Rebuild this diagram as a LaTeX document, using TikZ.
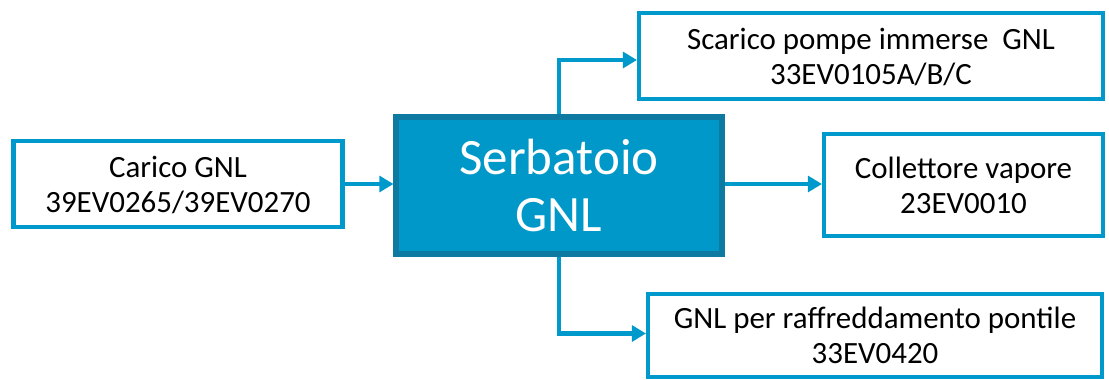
\documentclass[tikz,border=0pt]{standalone}
\usepackage{fontspec}
\setmainfont{Carlito}
\usetikzlibrary{arrows.meta}
\definecolor{lineblue}{RGB}{0,153,204}
\definecolor{tankfill}{RGB}{0,152,200}
\definecolor{tankedge}{RGB}{14,122,162}
\tikzset{
  box/.style={draw=lineblue, line width=2.3pt, fill=white, align=center,
    font=\fontsize{17.6}{20}\selectfont, inner sep=0pt, text depth=0pt},
  tankbox/.style={draw=tankedge, line width=2.9pt, fill=tankfill, align=center,
    text=white, font=\fontsize{29}{32}\selectfont, inner sep=0pt},
  flow/.style={draw=lineblue, line width=2.8pt,
    -{Triangle[length=8pt,width=9pt]}}
}
\begin{document}
\begin{tikzpicture}[x=0.02cm,y=-0.02cm]
\useasboundingbox (0,0) rectangle (1109,379);
% storage tank in the middle
\node[tankbox, minimum width=326*0.02cm, minimum height=137*0.02cm] (tank) at (559,185.5) {Serbatoio\\GNL};
% incoming line
\node[box, minimum width=329*0.02cm, minimum height=86*0.02cm] (load) at (178,184) {Carico GNL\\39EV0265/39EV0270};
% outgoing lines
\node[box, minimum width=464*0.02cm, minimum height=86*0.02cm] (pump) at (871,56) {Scarico pompe immerse\ \ GNL\\33EV0105A/B/C};
\node[box, minimum width=279*0.02cm, minimum height=102*0.02cm] (vap) at (963.5,185) {Collettore vapore\\23EV0010};
\node[box, minimum width=454*0.02cm, minimum height=83*0.02cm] (cool) at (875,335.5) {GNL per raffreddamento pontile\\33EV0420};
% connectors
\draw[flow] (load.east) -- (load.east -| tank.west);
\draw[flow] (tank.east |- 0,184) -- (vap.west |- 0,184);
\draw[flow] (tank.north) |- ([yshift=-4*0.02cm]pump.west);
\draw[flow] (tank.south) |- ([yshift=2*0.02cm]cool.west);
\end{tikzpicture}
\end{document}
